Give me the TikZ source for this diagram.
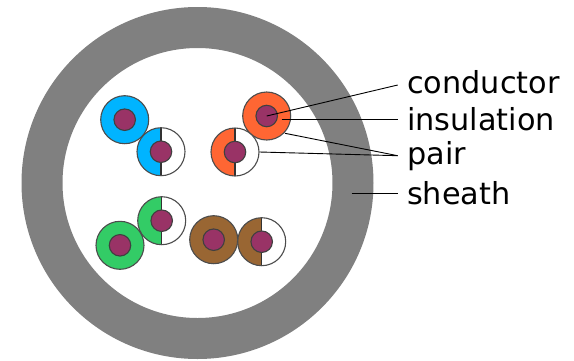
\documentclass[tikz,border=0pt]{standalone}
\usepackage{fontspec}
\setmainfont{DejaVu Sans}
\definecolor{cblue}{HTML}{00B4FF}
\definecolor{corange}{HTML}{FF6633}
\definecolor{cgreen}{HTML}{33CC66}
\definecolor{cbrown}{HTML}{996633}
\definecolor{cpurple}{HTML}{993366}
\definecolor{csheath}{HTML}{808080}
\tikzset{
  x=1pt,y=-1pt,
  wire/.style={circle,draw=black!70,line width=1.1pt,inner sep=0pt,minimum size=48pt},
  fullwire/.style={wire,fill=#1},
  halfwire/.style={wire,fill=white,path picture={\fill[#1] (path picture bounding box.south west) rectangle (path picture bounding box.north);\draw[black!80,line width=1.1pt] (path picture bounding box.south) -- (path picture bounding box.north);}},
  core/.style={circle,draw=black!75,line width=1.1pt,fill=cpurple,inner sep=0pt,minimum size=21.5pt},
  label/.style={anchor=base west,inner sep=0pt,font=\fontsize{30.3}{32}\selectfont,text=black},
  leader/.style={draw=black,line width=0.9pt}
}
\begin{document}
\begin{tikzpicture}
\useasboundingbox (0,0) rectangle (574,360);
\fill[white] (0,0) rectangle (574,360);
\fill[csheath,even odd rule] (197.5,183) circle[radius=176] (197.5,183) circle[radius=135];
\node[fullwire=cblue] (bf) at (124.7,119.7) {};
\node[core] (bfc) at (bf) {};
\node[halfwire=cblue] (bh) at (161,151.7) {};
\node[core] (bhc) at (bh) {};
\node[fullwire=corange] (of) at (266.7,116) {};
\node[core] (ofc) at (of) {};
\node[halfwire=corange] (oh) at (235,152) {};
\node[core] (ohc) at (oh) {};
\node[halfwire=cgreen] (gh) at (161.7,220.7) {};
\node[core] (ghc) at (gh) {};
\node[fullwire=cgreen] (gf) at (120,245.3) {};
\node[core] (gfc) at (gf) {};
\node[fullwire=cbrown] (nf) at (213.7,239.7) {};
\node[core] (nfc) at (nf) {};
\node[halfwire=cbrown] (nh) at (261.7,241.7) {};
\node[core] (nhc) at (nh) {};
\node[label] (lcond) at (407,93) {conductor};
\node[label] (lins) at (407,130) {insulation};
\node[label] (lpair) at (407,164) {pair};
\node[label] (lsheath) at (407,204) {sheath};
\coordinate (ecc) at (397.7,85);
\coordinate (eci) at (397.7,119.3);
\coordinate (ecp) at (397.7,155.7);
\coordinate (ecs) at (397.7,193);
\coordinate (sins) at (281.7,119.3);
\coordinate (spo) at (285,133.3);
\coordinate (sph) at (oh.east);
\coordinate (ssh) at (351.7,193);
\draw[leader] (ofc.center) -- (ecc);
\draw[leader] (sins) -- (eci);
\draw[leader] (spo) -- (ecp);
\draw[leader] (sph) -- (ecp);
\draw[leader] (ssh) -- (ecs);
\end{tikzpicture}
\end{document}
